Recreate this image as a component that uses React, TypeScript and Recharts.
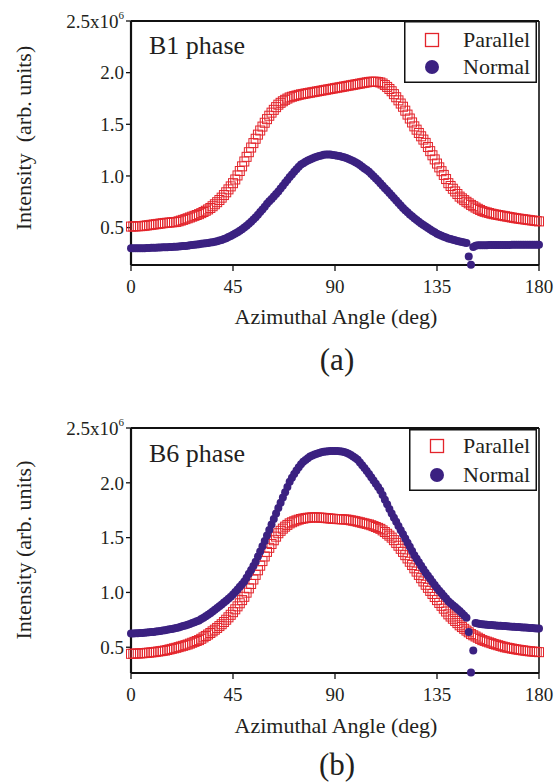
import React from 'react';
import { ScatterChart, Scatter, XAxis, YAxis, ReferenceLine, Legend } from 'recharts';

// azimuthal angle, 1 deg steps
const angles = Array.from({ length: 181 }, (_, i) => i);

// B1 phase, intensity in units of 10^6
const b1Parallel = [
  0.51, 0.511, 0.512, 0.513, 0.514, 0.515,
  0.518, 0.521, 0.524, 0.527, 0.53,
  0.533, 0.536, 0.539, 0.542, 0.545,
  0.547, 0.549, 0.551, 0.553, 0.555,
  0.561, 0.568, 0.575, 0.582, 0.59,
  0.598, 0.606, 0.614, 0.622, 0.63,
  0.64, 0.651, 0.663, 0.676, 0.69,
  0.707, 0.726, 0.746, 0.767, 0.79,
  0.815, 0.842, 0.87, 0.899, 0.93,
  0.966, 1.005, 1.048, 1.093, 1.14,
  1.185, 1.23, 1.275, 1.318, 1.36,
  1.4, 1.44, 1.478, 1.515, 1.55,
  1.583, 1.613, 1.64, 1.666, 1.69,
  1.708, 1.723, 1.737, 1.749, 1.76,
  1.767, 1.773, 1.779, 1.785, 1.79,
  1.794, 1.798, 1.802, 1.806, 1.81,
  1.814, 1.818, 1.822, 1.826, 1.83,
  1.834, 1.838, 1.842, 1.846, 1.85,
  1.854, 1.858, 1.862, 1.866, 1.87,
  1.874, 1.878, 1.882, 1.886, 1.89,
  1.894, 1.898, 1.902, 1.906, 1.91,
  1.912, 1.913, 1.912, 1.909, 1.905,
  1.895, 1.88, 1.862, 1.842, 1.82,
  1.792, 1.762, 1.732, 1.701, 1.67,
  1.632, 1.594, 1.556, 1.518, 1.48,
  1.448, 1.416, 1.384, 1.352, 1.32,
  1.28, 1.24, 1.2, 1.16, 1.12,
  1.083, 1.046, 1.01, 0.97, 0.93,
  0.903, 0.876, 0.85, 0.825, 0.8,
  0.783, 0.766, 0.75, 0.735, 0.72,
  0.707, 0.694, 0.682, 0.671, 0.66,
  0.653, 0.647, 0.641, 0.635, 0.63,
  0.626, 0.622, 0.618, 0.614, 0.61,
  0.606, 0.602, 0.598, 0.594, 0.59,
  0.587, 0.584, 0.581, 0.578, 0.575,
  0.572, 0.569, 0.566, 0.563, 0.56,
];

const b1Normal = [
  0.3, 0.3, 0.3, 0.3, 0.3, 0.3,
  0.301, 0.302, 0.303, 0.304, 0.305,
  0.306, 0.307, 0.308, 0.309, 0.31,
  0.311, 0.312, 0.313, 0.314, 0.315,
  0.317, 0.319, 0.321, 0.323, 0.325,
  0.328, 0.331, 0.334, 0.337, 0.34,
  0.343, 0.346, 0.349, 0.352, 0.355,
  0.359, 0.364, 0.369, 0.374, 0.38,
  0.389, 0.398, 0.408, 0.419, 0.43,
  0.443, 0.456, 0.47, 0.485, 0.5,
  0.518, 0.537, 0.557, 0.578, 0.6,
  0.625, 0.65, 0.676, 0.703, 0.73,
  0.754, 0.778, 0.802, 0.826, 0.85,
  0.878, 0.906, 0.934, 0.962, 0.99,
  1.015, 1.04, 1.064, 1.088, 1.11,
  1.124, 1.137, 1.149, 1.16, 1.17,
  1.178, 1.186, 1.193, 1.199, 1.205,
  1.207, 1.208, 1.207, 1.204, 1.2,
  1.196, 1.192, 1.187, 1.181, 1.175,
  1.165, 1.155, 1.144, 1.132, 1.12,
  1.105, 1.089, 1.073, 1.057, 1.04,
  1.019, 0.998, 0.976, 0.953, 0.93,
  0.906, 0.882, 0.858, 0.834, 0.81,
  0.786, 0.762, 0.738, 0.714, 0.69,
  0.669, 0.648, 0.628, 0.609, 0.59,
  0.573, 0.556, 0.54, 0.525, 0.51,
  0.496, 0.482, 0.468, 0.454, 0.44,
  0.43, 0.421, 0.412, 0.403, 0.395,
  0.389, 0.383, 0.377, 0.371, 0.365,
  0.36, 0.355, 0.35, 0.22, 0.14,
  0.312, 0.325, 0.328, 0.33, 0.33,
  0.33, 0.33, 0.331, 0.331, 0.331,
  0.331, 0.332, 0.332, 0.332, 0.332,
  0.332, 0.332, 0.333, 0.333, 0.333,
  0.333, 0.333, 0.333, 0.333, 0.334,
  0.334, 0.334, 0.334, 0.334, 0.335,
];

// B6 phase
const b6Parallel = [
  0.44, 0.441, 0.442, 0.443, 0.444, 0.445,
  0.447, 0.449, 0.451, 0.453, 0.455,
  0.458, 0.461, 0.464, 0.467, 0.47,
  0.475, 0.48, 0.485, 0.49, 0.495,
  0.501, 0.507, 0.513, 0.519, 0.525,
  0.533, 0.541, 0.549, 0.557, 0.565,
  0.577, 0.59, 0.603, 0.616, 0.63,
  0.645, 0.66, 0.676, 0.693, 0.71,
  0.73, 0.751, 0.773, 0.796, 0.82,
  0.846, 0.873, 0.901, 0.93, 0.96,
  0.998, 1.037, 1.077, 1.118, 1.16,
  1.202, 1.244, 1.286, 1.328, 1.37,
  1.407, 1.442, 1.476, 1.509, 1.54,
  1.562, 1.582, 1.6, 1.616, 1.63,
  1.64, 1.649, 1.657, 1.664, 1.67,
  1.674, 1.678, 1.681, 1.683, 1.685,
  1.685, 1.684, 1.683, 1.682, 1.68,
  1.678, 1.676, 1.674, 1.672, 1.67,
  1.669, 1.668, 1.667, 1.666, 1.665,
  1.662, 1.658, 1.654, 1.65, 1.645,
  1.64, 1.635, 1.63, 1.625, 1.62,
  1.613, 1.605, 1.597, 1.589, 1.58,
  1.566, 1.551, 1.535, 1.518, 1.5,
  1.477, 1.452, 1.426, 1.398, 1.37,
  1.34, 1.31, 1.28, 1.25, 1.22,
  1.19, 1.16, 1.13, 1.1, 1.07,
  1.042, 1.014, 0.986, 0.958, 0.93,
  0.904, 0.878, 0.852, 0.826, 0.8,
  0.78, 0.76, 0.74, 0.72, 0.7,
  0.684, 0.668, 0.652, 0.636, 0.62,
  0.609, 0.598, 0.587, 0.576, 0.565,
  0.558, 0.551, 0.544, 0.537, 0.53,
  0.524, 0.518, 0.512, 0.506, 0.5,
  0.496, 0.492, 0.488, 0.484, 0.48,
  0.477, 0.474, 0.471, 0.468, 0.465,
  0.463, 0.461, 0.459, 0.457, 0.455,
];

const b6Normal = [
  0.625, 0.626, 0.627, 0.628, 0.629, 0.63,
  0.632, 0.634, 0.636, 0.638, 0.64,
  0.643, 0.646, 0.649, 0.652, 0.655,
  0.659, 0.663, 0.667, 0.671, 0.675,
  0.681, 0.687, 0.693, 0.699, 0.705,
  0.713, 0.721, 0.729, 0.737, 0.745,
  0.757, 0.77, 0.783, 0.796, 0.81,
  0.826, 0.842, 0.858, 0.874, 0.89,
  0.907, 0.924, 0.942, 0.961, 0.98,
  1.003, 1.027, 1.051, 1.075, 1.1,
  1.135, 1.17, 1.205, 1.242, 1.28,
  1.327, 1.374, 1.421, 1.469, 1.52,
  1.57, 1.62, 1.67, 1.72, 1.77,
  1.818, 1.866, 1.914, 1.962, 2.01,
  2.046, 2.08, 2.112, 2.142, 2.17,
  2.191, 2.209, 2.225, 2.239, 2.25,
  2.258, 2.266, 2.273, 2.279, 2.283,
  2.286, 2.288, 2.29, 2.29, 2.29,
  2.29, 2.289, 2.286, 2.281, 2.275,
  2.265, 2.253, 2.24, 2.226, 2.21,
  2.186, 2.161, 2.135, 2.108, 2.08,
  2.051, 2.022, 1.992, 1.961, 1.93,
  1.888, 1.846, 1.804, 1.762, 1.72,
  1.682, 1.644, 1.606, 1.568, 1.53,
  1.492, 1.454, 1.416, 1.378, 1.34,
  1.308, 1.276, 1.244, 1.212, 1.18,
  1.152, 1.124, 1.096, 1.068, 1.04,
  1.016, 0.992, 0.968, 0.944, 0.92,
  0.902, 0.884, 0.866, 0.848, 0.83,
  0.81, 0.79, 0.77, 0.64, 0.27,
  0.47, 0.72, 0.717, 0.713, 0.71,
  0.708, 0.706, 0.704, 0.702, 0.7,
  0.699, 0.697, 0.696, 0.694, 0.693,
  0.691, 0.69, 0.688, 0.687, 0.685,
  0.684, 0.682, 0.681, 0.679, 0.678,
  0.676, 0.675, 0.673, 0.672, 0.67,
];

const seriesNames = ['Parallel', 'Normal'];
const xTicks = [0, 45, 90, 135, 180];
const yTicks = [0.5, 1.0, 1.5, 2.0, 2.5];

const RED = '#e3242b';
const PURPLE = '#3b2181';
const INK = '#231f20';
const FONT = '"Liberation Serif", "Times New Roman", Times, serif';

const toPoints = (vals: number[]) => vals.map((v, i) => ({ angle: angles[i], v }));

function Square(props: any) {
  const { cx, cy } = props;
  if (cx == null || cy == null) return null;
  return <rect x={cx - 4.5} y={cy - 4.5} width={9} height={9} fill="none" stroke={RED} strokeWidth={1} />;
}

function Dot(props: any) {
  const { cx, cy } = props;
  if (cx == null || cy == null) return null;
  return <circle cx={cx} cy={cy} r={4} fill={PURPLE} />;
}

function YTick(props: any) {
  const { x, y, payload } = props;
  const v = payload.value as number;
  if (v === 2.5) {
    return (
      <text x={x} y={y} dy="0.355em" textAnchor="end" fontSize={19} fontFamily={FONT} fill={INK}>
        2.5x10<tspan dy={-9} fontSize={11}>6</tspan>
      </text>
    );
  }
  return (
    <text x={x} y={y} dy="0.355em" textAnchor="end" fontSize={19} fontFamily={FONT} fill={INK}>
      {v.toFixed(1)}
    </text>
  );
}

interface LegendBox {
  left: number;
  top: number;
  width: number;
  height: number;
  markerX: number;
  textX: number;
  rows: number[];
}

// legend box drawn in the series order, not recharts' sorted order
const legendContent = (box: LegendBox) => (props: any) => {
  const payload = props.payload || [];
  return (
    <svg width={box.width} height={box.height} style={{ display: 'block' }}>
      <rect x={0.75} y={0.75} width={box.width - 1.5} height={box.height - 1.5} fill="#fff" stroke="#111" strokeWidth={1.5} />
      {seriesNames.map((name, i) => {
        const entry = payload.find((e: any) => e.value === name);
        if (!entry) return null;
        const cy = box.rows[i];
        return (
          <g key={name}>
            {name === 'Parallel' ? (
              <rect x={box.markerX - 6.5} y={cy - 6.5} width={13} height={13} fill="none" stroke={RED} strokeWidth={1.3} />
            ) : (
              <circle cx={box.markerX} cy={cy} r={7} fill={PURPLE} />
            )}
            <text x={box.textX} y={cy + 6.5} fontFamily={FONT} fontSize={22} fill={INK}>
              {entry.value}
            </text>
          </g>
        );
      })}
    </svg>
  );
};

interface PanelProps {
  top: number;
  height: number;
  marginTop: number;
  marginBottom: number;
  yMin: number;
  phase: string;
  tag: string;
  yTitle: string;
  parallel: number[];
  normal: number[];
  legend: LegendBox;
  phaseY: number;
  yTitleY: number;
  xTitleY: number;
  tagY: number;
}

function Panel(p: PanelProps) {
  return (
    <div style={{ position: 'absolute', left: 0, top: p.top, width: 557, height: p.height }}>
      <ScatterChart
        width={557}
        height={p.height}
        margin={{ top: p.marginTop, right: 18, bottom: p.marginBottom, left: 71 }}
      >
        <XAxis
          type="number"
          dataKey="angle"
          domain={[0, 180]}
          ticks={xTicks}
          height={30}
          tickSize={6}
          tickMargin={9}
          axisLine={{ stroke: '#111', strokeWidth: 2.2 }}
          tickLine={{ stroke: '#111', strokeWidth: 1.3 }}
          tick={{ fontSize: 19, fontFamily: FONT, fill: INK }}
        />
        <YAxis
          type="number"
          dataKey="v"
          domain={[p.yMin, 2.5]}
          ticks={yTicks}
          width={60}
          tickSize={5}
          tickMargin={2}
          axisLine={{ stroke: '#111', strokeWidth: 2.2 }}
          tickLine={{ stroke: '#111', strokeWidth: 1.3 }}
          tick={<YTick />}
        />
        <ReferenceLine y={2.5} stroke="#111" strokeWidth={2} />
        <ReferenceLine x={180} stroke="#111" strokeWidth={1.6} />
        <Scatter name={seriesNames[0]} data={toPoints(p.parallel)} fill={RED} shape={<Square />} isAnimationActive={false} />
        <Scatter name={seriesNames[1]} data={toPoints(p.normal)} fill={PURPLE} shape={<Dot />} isAnimationActive={false} />
        <Legend
          layout="vertical"
          align="center"
          verticalAlign="middle"
          content={legendContent(p.legend)}
          wrapperStyle={{
            position: 'absolute',
            left: p.legend.left,
            top: p.legend.top,
            width: p.legend.width,
            height: p.legend.height,
          }}
        />
        <text x={149} y={p.phaseY} fontFamily={FONT} fontSize={26} fill={INK}>
          {p.phase}
        </text>
        <text
          x={31}
          y={p.yTitleY}
          textAnchor="middle"
          transform={`rotate(-90, 31, ${p.yTitleY})`}
          fontFamily={FONT}
          fontSize={22}
          fill={INK}
        >
          {p.yTitle}
        </text>
        <text x={336} y={p.xTitleY} textAnchor="middle" fontFamily={FONT} fontSize={22} fill={INK}>
          Azimuthal Angle (deg)
        </text>
        <text x={337} y={p.tagY} textAnchor="middle" fontFamily={FONT} fontSize={31} fill={INK}>
          {p.tag}
        </text>
      </ScatterChart>
    </div>
  );
}

export default function App() {
  return (
    <div style={{ position: 'absolute', left: 0, top: 0, width: 557, height: 783, background: '#fff', overflow: 'hidden' }}>
      <Panel
        top={0}
        height={390}
        marginTop={21}
        marginBottom={95}
        yMin={0.138}
        phase="B1 phase"
        tag="(a)"
        yTitle={'Intensity\u00a0 (arb. units)'}
        parallel={b1Parallel}
        normal={b1Normal}
        legend={{ left: 404, top: 21, width: 133, height: 62, markerX: 28, textX: 59, rows: [19, 46] }}
        phaseY={54}
        yTitleY={138}
        xTitleY={324}
        tagY={370}
      />
      <Panel
        top={390}
        height={393}
        marginTop={38}
        marginBottom={80}
        yMin={0.265}
        phase="B6 phase"
        tag="(b)"
        yTitle="Intensity (arb. units)"
        parallel={b6Parallel}
        normal={b6Normal}
        legend={{ left: 409, top: 39, width: 128, height: 62, markerX: 28, textX: 54, rows: [17, 46] }}
        phaseY={72}
        yTitleY={160}
        xTitleY={343}
        tagY={385}
      />
    </div>
  );
}
